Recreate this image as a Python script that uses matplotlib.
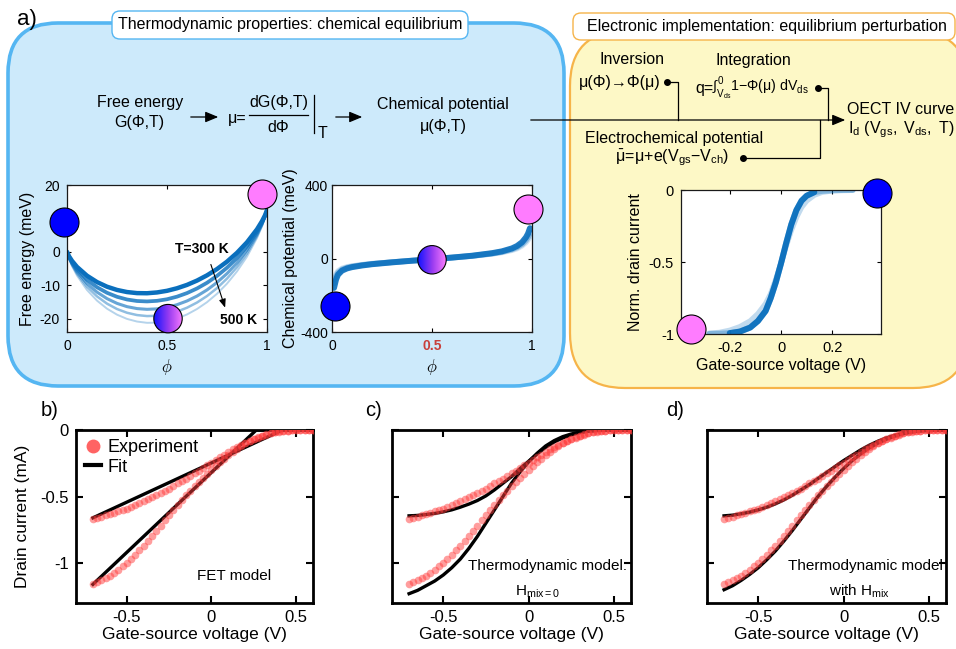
import numpy as np
import matplotlib
matplotlib.use('Agg')
import matplotlib.pyplot as plt
from matplotlib.patches import FancyBboxPatch, FancyArrowPatch, Circle
from matplotlib.lines import Line2D
from matplotlib.colors import LinearSegmentedColormap

plt.rcParams['font.family'] = ['Liberation Sans', 'DejaVu Sans']
plt.rcParams['mathtext.fontset'] = 'custom'
plt.rcParams['mathtext.rm'] = 'Liberation Sans'
plt.rcParams['mathtext.it'] = 'Liberation Sans:italic'
plt.rcParams['mathtext.bf'] = 'Liberation Sans:bold'
plt.rcParams['axes.unicode_minus'] = False

# ---------------- data ----------------
# free energy (meV) vs phi, T = 300, 350, 400, 450, 500 K
phi_g = [0, .01, .025, .05, .1, .15, .2, .25, .3, .35, .4, .45, .5,
         .55, .6, .65, .7, .75, .8, .85, .9, .95, .975, .99, 1]
G_300 = [0, -1.32, -2.71, -4.51, -7.15, -9.05, -10.44, -11.41, -12.04, -12.36, -12.40, -12.16, -11.67,
         -10.91, -9.90, -8.61, -7.04, -5.16, -2.94, -0.30, 2.85, 6.74, 9.17, 10.93, 12.5]
G_350 = [0, -1.53, -3.14, -5.23, -8.34, -10.60, -12.26, -13.46, -14.27, -14.72, -14.85, -14.67, -14.20,
         -13.42, -12.35, -10.97, -9.27, -7.21, -4.76, -1.85, 1.66, 6.02, 8.74, 10.72, 12.5]
G_400 = [0, -1.72, -3.55, -5.93, -9.48, -12.07, -14.01, -15.43, -16.41, -16.99, -17.21, -17.08, -16.62,
         -15.83, -14.71, -13.24, -11.41, -9.18, -6.51, -3.32, 0.52, 5.32, 8.33, 10.53, 12.5]
G_450 = [0, -1.89, -3.90, -6.52, -10.45, -13.34, -15.51, -17.12, -18.24, -18.93, -19.23, -19.15, -18.70,
         -17.90, -16.73, -15.18, -13.24, -10.87, -8.01, -4.59, -0.45, 4.73, 7.98, 10.36, 12.5]
G_500 = [0, -2.06, -4.25, -7.12, -11.43, -14.61, -17.02, -18.81, -20.08, -20.87, -21.25, -21.21, -20.78,
         -19.96, -18.75, -17.12, -15.08, -12.56, -9.52, -5.86, -1.43, 4.13, 7.63, 10.19, 12.5]
G_curves = [G_500, G_450, G_400, G_350, G_300]

# chemical potential (meV) vs phi
phi_mu = [0.01, 0.02, 0.03, 0.05, 0.075, 0.1, 0.15, 0.2, 0.3, 0.4, 0.5,
          0.6, 0.7, 0.8, 0.85, 0.9, 0.925, 0.95, 0.97, 0.98, 0.99]
mu_a = [-160, -115, -88, -66, -54, -47, -38, -31, -21, -12, -4, 5, 15, 29, 39, 55, 68, 88, 115, 135, 165]
mu_b = [-135, -98, -78, -60, -50, -44, -36, -30, -20, -12, -4, 5, 14, 27, 36, 50, 61, 78, 100, 116, 140]
mu_c = [-115, -85, -68, -54, -46, -41, -34, -28, -20, -12, -4, 5, 14, 25, 33, 45, 54, 69, 88, 101, 120]

# normalised drain current vs gate voltage
V_norm = [-0.28, -0.24, -0.20, -0.16, -0.12, -0.09, -0.06, -0.04, -0.02, 0.00,
          0.02, 0.04, 0.06, 0.08, 0.10, 0.13, 0.16, 0.20, 0.24, 0.28]
I_norm_a = [-1.0, -0.998, -0.994, -0.983, -0.955, -0.91, -0.84, -0.75, -0.64, -0.51,
            -0.37, -0.24, -0.14, -0.075, -0.04, -0.015, -0.006, -0.002, -0.001, 0]
I_norm_b = [-0.995, -0.99, -0.975, -0.95, -0.91, -0.86, -0.79, -0.72, -0.62, -0.51,
            -0.39, -0.28, -0.19, -0.12, -0.075, -0.035, -0.015, -0.005, -0.001, 0]

# state markers
dots_G = [(-0.015, 8.8, 'blue'), (0.975, 17.3, 'pink'), (0.505, -20, 'grad')]
dots_mu = [(0.015, -261, 'blue'), (0.98, 272, 'pink'), (0.5, -7, 'grad')]
dots_norm = [(-0.35, -0.965, 'pink'), (0.375, -0.02, 'blue')]

# experiment (mA) vs gate-source voltage (V)
V_exp = [-0.7, -0.675, -0.65, -0.625, -0.6, -0.575, -0.55, -0.525, -0.5, -0.475, -0.45, -0.425,
         -0.4, -0.375, -0.35, -0.325, -0.3, -0.275, -0.25, -0.225, -0.2, -0.175, -0.15, -0.125,
         -0.1, -0.075, -0.05, -0.025, 0.0, 0.025, 0.05, 0.075, 0.1, 0.125, 0.15, 0.175, 0.2,
         0.225, 0.25, 0.275, 0.3, 0.325, 0.35, 0.375, 0.4, 0.425, 0.45, 0.475, 0.5, 0.525,
         0.55, 0.575, 0.6]
I_exp_lo = [-1.16, -1.145, -1.13, -1.115, -1.10, -1.075, -1.05, -1.025, -1.00, -0.97, -0.94, -0.905,
            -0.87, -0.835, -0.80, -0.76, -0.72, -0.68, -0.64, -0.60, -0.56, -0.525, -0.49, -0.455,
            -0.42, -0.39, -0.36, -0.33, -0.30, -0.27, -0.24, -0.215, -0.19, -0.165, -0.14, -0.12,
            -0.10, -0.085, -0.07, -0.057, -0.045, -0.035, -0.025, -0.018, -0.012, -0.008, -0.005,
            -0.003, -0.001, 0, 0, 0, 0]
I_exp_hi = [-0.67, -0.66, -0.65, -0.64, -0.63, -0.62, -0.61, -0.60, -0.59, -0.575, -0.565, -0.55,
            -0.535, -0.52, -0.505, -0.49, -0.475, -0.455, -0.44, -0.42, -0.40, -0.385, -0.365,
            -0.345, -0.325, -0.305, -0.285, -0.265, -0.245, -0.225, -0.205, -0.185, -0.165,
            -0.145, -0.125, -0.11, -0.095, -0.08, -0.065, -0.053, -0.042, -0.032, -0.024, -0.017,
            -0.011, -0.007, -0.004, -0.002, -0.001, 0, 0, 0, 0]

# FET model fit (piecewise linear)
V_fet_lo = [-0.7, 0.265, 0.6]
I_fet_lo = [-1.16, 0, 0]
V_fet_hi = [-0.7, 0.42, 0.6]
I_fet_hi = [-0.66, 0, 0]

# thermodynamic model fits
V_fit = [-0.7, -0.65, -0.6, -0.55, -0.5, -0.45, -0.4, -0.35, -0.3, -0.25, -0.2, -0.15, -0.1,
         -0.05, 0.0, 0.05, 0.1, 0.15, 0.2, 0.25, 0.3, 0.35, 0.4, 0.45, 0.5, 0.55, 0.6]
I_h0_lo = [-1.23, -1.205, -1.17, -1.135, -1.09, -1.035, -0.97, -0.89, -0.80, -0.70, -0.60, -0.50,
           -0.40, -0.315, -0.24, -0.175, -0.12, -0.08, -0.05, -0.03, -0.016, -0.008, -0.003,
           -0.001, 0, 0, 0]
I_h0_hi = [-0.645, -0.642, -0.635, -0.627, -0.615, -0.60, -0.58, -0.557, -0.53, -0.495, -0.45,
           -0.40, -0.35, -0.29, -0.235, -0.18, -0.13, -0.09, -0.06, -0.037, -0.02, -0.01, -0.004,
           -0.001, 0, 0, 0]
I_hm_lo = [-1.20, -1.17, -1.13, -1.085, -1.035, -0.975, -0.91, -0.835, -0.755, -0.67, -0.585,
           -0.50, -0.425, -0.355, -0.29, -0.23, -0.18, -0.135, -0.10, -0.07, -0.046, -0.028,
           -0.015, -0.007, -0.003, -0.001, 0]
I_hm_hi = [-0.645, -0.64, -0.63, -0.617, -0.60, -0.58, -0.555, -0.525, -0.49, -0.45, -0.41,
           -0.365, -0.32, -0.275, -0.23, -0.19, -0.15, -0.115, -0.085, -0.06, -0.04, -0.025,
           -0.013, -0.006, -0.002, 0, 0]

# ---------------- figure helpers ----------------
W, H = 956, 649
fig = plt.figure(figsize=(W / 100, H / 100), dpi=100)

BLUE_LINE = '#0a6fbd'
DOT_COL = {'blue': '#0000ff', 'pink': '#ff7cff'}
grad_cmap = LinearSegmentedColormap.from_list('bp', ['#1414ff', '#9a3cf0', '#ff80ff'])
FS = 11.5


def fx(x):
    return x / W


def fy(y):
    return 1 - y / H


def axes_px(l, t, r, b):
    return fig.add_axes([fx(l), fy(b), (r - l) / W, (b - t) / H])


def rbox(l, t, r, b, rad, fc, ec, lw, z):
    p = FancyBboxPatch((l / 100, (H - b) / 100), (r - l) / 100, (b - t) / 100,
                       boxstyle=f'round,pad=0,rounding_size={rad / 100}',
                       transform=fig.dpi_scale_trans, fc=fc, ec=ec, lw=lw, zorder=z)
    fig.add_artist(p)


def txt(x, y, s, size=FS, **kw):
    kw.setdefault('ha', 'center')
    kw.setdefault('va', 'center')
    fig.text(fx(x), fy(y), s, fontsize=size, **kw)


def wire(xs, ys):
    fig.add_artist(Line2D([fx(v) for v in xs], [fy(v) for v in ys], color='k', lw=0.9))


def node(x, y):
    fig.add_artist(Line2D([fx(x)], [fy(y)], marker='o', ms=4, color='k'))


def arrow(x0, x1, y):
    fig.add_artist(FancyArrowPatch((fx(x0), fy(y)), (fx(x1), fy(y)), transform=fig.transFigure,
                                   arrowstyle='-|>,head_length=0.6,head_width=0.25',
                                   mutation_scale=13, lw=0.9, color='k'))


def state_dot(ax, x, y, kind, d=29):
    if kind != 'grad':
        ax.plot(x, y, 'o', ms=d * 0.72, mfc=DOT_COL[kind], mec='k', mew=0.8,
                clip_on=False, zorder=6)
        return
    cx, cy = ax.transData.transform((x, y))
    sub = fig.add_axes([(cx - d / 2) / W, (cy - d / 2) / H, d / W, d / H])
    im = sub.imshow(np.linspace(0, 1, 64)[None, :], cmap=grad_cmap, aspect='auto',
                    extent=(0, 1, 0, 1))
    c = Circle((0.5, 0.5), 0.49, transform=sub.transAxes, fc='none', ec='k', lw=0.8)
    sub.add_patch(c)
    c.set_clip_on(False)
    im.set_clip_path(c)
    sub.axis('off')


def style_top(ax, size=10):
    ax.tick_params(direction='in', top=True, right=True, length=3, width=0.8,
                   labelsize=size, pad=5)
    for s in ax.spines.values():
        s.set_linewidth(0.9)
        s.set_color('#1a1a1a')


def style_bottom(ax, ylabels):
    ax.set_xlim(-0.8, 0.6)
    ax.set_ylim(-1.3, 0)
    ax.set_xticks([-0.5, 0, 0.5])
    ax.set_xticklabels(['-0.5', '0', '0.5'])
    ax.set_yticks([-1, -0.5, 0])
    ax.set_yticklabels(['-1', '-0.5', '0'] if ylabels else [])
    ax.tick_params(direction='in', top=True, right=True, length=5, width=1.5,
                   labelsize=12, pad=5)
    for s in ax.spines.values():
        s.set_linewidth(2)
    ax.set_xlabel('Gate-source voltage (V)', fontsize=12.5)
    ax.xaxis.set_label_coords(0.5, -0.14)


def iv_panel(ax, fits):
    for v, i in fits:
        ax.plot(v, i, color='k', lw=2.4, zorder=2)
    ax.plot(V_exp, I_exp_lo, 'o', color='#ff3c3c', alpha=0.5, ms=5.5, mec='none', zorder=3)
    ax.plot(V_exp, I_exp_hi, 'o', color='#ff3c3c', alpha=0.5, ms=5.5, mec='none', zorder=3)


# ---------------- background boxes ----------------
rbox(8, 23, 564, 386, 50, '#cdeafb', '#55b6f2', 2.6, -3)
rbox(570, 31, 968, 388, 55, '#fdf8c6', '#f6b449', 1.6, -3)
rbox(112, 11, 468, 39, 8, 'white', '#55b6f2', 1.0, -2)
rbox(573, 13, 955, 40, 8, 'white', '#f6b449', 1.0, -2)
txt(290, 25, 'Thermodynamic properties: chemical equilibrium')
txt(767, 26.5, 'Electronic implementation: equilibrium perturbation')
txt(27, 20, 'a)', 16)

# ---------------- flow diagram ----------------
txt(140, 103, 'Free energy')
txt(139, 123, 'G(Φ,T)')
arrow(188, 221, 117)
txt(237, 118, 'μ=')
txt(279, 103, 'dG(Φ,T)')
wire([249, 308], [115, 115])
txt(278, 127, 'dΦ')
wire([314, 314], [95, 133])
txt(323, 133, 'T')
arrow(333, 365, 117)
txt(443, 105, 'Chemical potential')
txt(443, 127, 'μ(Φ,T)')

arrow(528, 848, 120)
txt(632, 60, 'Inversion')
txt(620, 82, 'μ(Φ)→Φ(μ)')
node(667, 82)
wire([667, 678, 678], [82, 82, 120])
txt(753, 61, 'Integration')
txt(713, 89, 'q=', ha='right')
txt(712, 88, r'$\mathregular{\int_{V_{ds}}^{0}1{-}Φ(μ)\ dV_{ds}}$', size=10.2, ha='left')
node(818, 88)
wire([818, 828, 828], [88, 88, 120])
txt(674, 139, 'Electrochemical potential')
txt(672, 158, r'$\mathregular{\bar{μ}\!=\!μ{+}e(V_{gs}{-}V_{ch})}$')
node(743, 158)
wire([743, 820, 820], [158, 158, 120])
txt(847, 110, 'OECT IV curve', ha='left')
txt(848, 130, r'$\mathregular{I_{d}\ (V_{gs},\ V_{ds},\ T)}$', ha='left')

# ---------------- free energy panel ----------------
ax1 = axes_px(67, 185, 267, 332)
styles = [(1.4, 0.3), (1.8, 0.45), (2.2, 0.62), (2.7, 0.8), (3.2, 1.0)]
for G, (lw, a) in zip(G_curves, styles):
    ax1.plot(phi_g, G, color=BLUE_LINE, lw=lw, alpha=a, solid_capstyle='round')
ax1.set_xlim(0, 1)
ax1.set_ylim(-24, 20)
ax1.set_xticks([0, 0.5, 1])
ax1.set_xticklabels(['0', '0.5', '1'])
ax1.set_yticks([-20, -10, 0, 20])
ax1.set_yticklabels(['-20', '-10', '0', '20'])
style_top(ax1)
ax1.set_xlabel(r'$\phi$', fontsize=12, math_fontfamily='cm')
ax1.xaxis.set_label_coords(0.5, -0.17)
ax1.set_ylabel('Free energy (meV)', fontsize=FS)
ax1.yaxis.set_label_coords(-0.16, 0.5)
ax1.text(0.676, 0.9, 'T=300 K', fontsize=10, fontweight='bold', ha='center', va='center')
ax1.text(0.86, -20.3, '500 K', fontsize=10, fontweight='bold', ha='center', va='center')
ax1.annotate('', xy=(0.795, -17.5), xytext=(0.715, -3),
             arrowprops=dict(arrowstyle='-|>,head_length=0.5,head_width=0.2', lw=0.8, color='k'))

# ---------------- chemical potential panel ----------------
ax2 = axes_px(332, 185, 532, 332)
for mu, lw, a in [(mu_c, 4.0, 0.2), (mu_b, 4.2, 0.35), (mu_a, 4.3, 0.9)]:
    ax2.plot(phi_mu, mu, color=BLUE_LINE, lw=lw, alpha=a, solid_capstyle='round')
ax2.set_xlim(0, 1)
ax2.set_ylim(-400, 400)
ax2.set_xticks([0, 0.5, 1])
ax2.set_xticklabels(['0', '0.5', '1'])
ax2.set_yticks([-400, 0, 400])
ax2.set_yticklabels(['-400', '0', '400'])
style_top(ax2)
ax2.tick_params(axis='y', pad=3)
lab = ax2.get_xticklabels()[1]
lab.set_color('#c8403c')
lab.set_fontweight('bold')
ax2.set_xlabel(r'$\phi$', fontsize=12, math_fontfamily='cm')
ax2.xaxis.set_label_coords(0.5, -0.17)
ax2.set_ylabel('Chemical potential (meV)', fontsize=FS)
ax2.yaxis.set_label_coords(-0.17, 0.5)

# ---------------- normalised current panel ----------------
ax3 = axes_px(681, 190, 881, 334)
ax3.plot(V_norm, I_norm_b, color=BLUE_LINE, lw=4, alpha=0.25, solid_capstyle='round')
ax3.plot(V_norm, I_norm_a, color=BLUE_LINE, lw=4.3, alpha=0.35, solid_capstyle='round')
ax3.plot(V_norm[2:16], I_norm_a[2:16], color=BLUE_LINE, lw=4.3, alpha=0.95, solid_capstyle='round')
ax3.set_xlim(-0.39, 0.39)
ax3.set_ylim(-1, 0)
ax3.set_xticks([-0.2, 0, 0.2])
ax3.set_xticklabels(['-0.2', '0', '0.2'])
ax3.set_yticks([-1, -0.5, 0])
ax3.set_yticklabels(['-1', '-0.5', '0'])
style_top(ax3, 10.5)
ax3.set_xlabel('Gate-source voltage (V)', fontsize=FS)
ax3.xaxis.set_label_coords(0.5, -0.165)
ax3.set_ylabel('Norm. drain current', fontsize=FS)
ax3.yaxis.set_label_coords(-0.19, 0.5)

for ax, dots in [(ax1, dots_G), (ax2, dots_mu), (ax3, dots_norm)]:
    for x, y, kind in dots:
        state_dot(ax, x, y, kind)

# ---------------- IV panels ----------------
axb = axes_px(76, 430, 313, 603)
axc = axes_px(392, 430, 631, 603)
axd = axes_px(707, 430, 946, 603)

iv_panel(axb, [(V_fet_lo, I_fet_lo), (V_fet_hi, I_fet_hi)])
iv_panel(axc, [(V_fit, I_h0_lo), (V_fit, I_h0_hi)])
iv_panel(axd, [(V_fit, I_hm_lo), (V_fit, I_hm_hi)])
style_bottom(axb, True)
style_bottom(axc, False)
style_bottom(axd, False)

axb.set_ylabel('Drain current (mA)', fontsize=12.5)
axb.yaxis.set_label_coords(-0.195, 0.5)
handles = [Line2D([], [], marker='o', ls='none', color='#ff3c3c', alpha=0.8, ms=10, mec='none'),
           Line2D([], [], color='k', lw=3)]
axb.legend(handles, ['Experiment', 'Fit'], loc='upper left', frameon=False, fontsize=13,
           handlelength=0.9, handletextpad=0.35, borderpad=0.2, borderaxespad=0.3,
           labelspacing=0.15)

axb.text(0.665, 0.155, 'FET model', transform=axb.transAxes, fontsize=11, ha='center', va='center')
axc.text(0.985, 0.215, 'Thermodynamic model:', transform=axc.transAxes, fontsize=11,
         ha='right', va='center')
axc.text(0.61, 0.065, r'$\mathregular{H_{mix=0}}$', transform=axc.transAxes, fontsize=11,
         ha='center', va='center')
axd.text(0.985, 0.215, 'Thermodynamic model', transform=axd.transAxes, fontsize=11,
         ha='right', va='center')
axd.text(0.64, 0.07, r'$\mathregular{with\ H_{mix}}$', transform=axd.transAxes, fontsize=11,
         ha='center', va='center')

txt(50, 410, 'b)', 14.5)
txt(374, 410, 'c)', 14.5)
txt(675, 410, 'd)', 14.5)

fig.savefig('out.png', dpi=100)
